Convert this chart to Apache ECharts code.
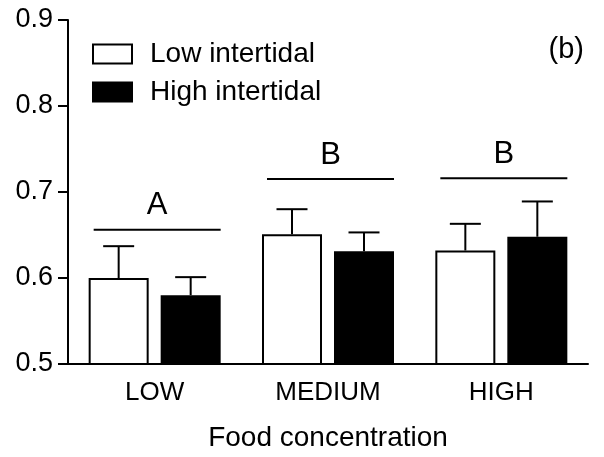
<!DOCTYPE html>
<html>
<head>
<meta charset="utf-8">
<script src="https://cdn.jsdelivr.net/npm/echarts@6/dist/echarts.min.js"></script>
<style>
  html, body { margin: 0; padding: 0; background: #fff; }
  #chart { width: 604px; height: 457px; }
</style>
</head>
<body>
<div id="chart"></div>
<script>
// Food concentration treatments
const categories = ['LOW', 'MEDIUM', 'HIGH'];
// Means and standard errors per intertidal origin
const lowIntertidal = [0.600, 0.651, 0.632];
const lowIntertidalSE = [0.037, 0.029, 0.031];
const highIntertidal = [0.580, 0.631, 0.648];
const highIntertidalSE = [0.021, 0.022, 0.041];
// Post-hoc grouping letters and the level of their bracket lines
const groupLetters = ['A', 'B', 'B'];
const groupLineLevel = [0.656, 0.715, 0.716];
// Y axis ticks
const yTicks = [0.5, 0.6, 0.7, 0.8, 0.9];

const FONT = 'Liberation Sans, Arial, Helvetica, sans-serif';
const BAR_W = 60;
const BAR_OFFSET = 36; // half of bar width plus half of gap

const chart = echarts.init(document.getElementById('chart'), null, { renderer: 'canvas' });

function errorSeries(name, means, ses, dir) {
  return {
    type: 'custom',
    name: name + ' SE',
    z: 1,
    silent: true,
    data: means.map((m, i) => [i, m, m + ses[i]]),
    renderItem: function (params, api) {
      const base = api.coord([api.value(0), api.value(1)]);
      const top = api.coord([api.value(0), api.value(2)]);
      const x = base[0] + dir * BAR_OFFSET;
      const style = { stroke: '#000', lineWidth: 2 };
      return {
        type: 'group',
        children: [
          { type: 'line', shape: { x1: x, y1: base[1], x2: x, y2: top[1] }, style: style },
          { type: 'line', shape: { x1: x - 15.5, y1: top[1], x2: x + 15.5, y2: top[1] }, style: style }
        ]
      };
    }
  };
}

const option = {
  animation: false,
  backgroundColor: '#fff',
  title: {
    text: '(b)',
    right: 20,
    top: 35,
    padding: 0,
    textStyle: { fontFamily: FONT, fontSize: 29, fontWeight: 'normal', color: '#000' }
  },
  legend: {
    orient: 'vertical',
    left: 92,
    top: 40,
    padding: 0,
    icon: 'rect',
    itemWidth: 39,
    itemHeight: 19,
    itemGap: 10,
    data: ['Low intertidal', 'High intertidal'],
    textStyle: { fontFamily: FONT, fontSize: 28, color: '#000', padding: [0, 0, 0, 13], lineHeight: 28 }
  },
  grid: { left: 68, right: 16, top: 20, bottom: 93, containLabel: false },
  xAxis: {
    type: 'category',
    data: categories,
    name: 'Food concentration',
    nameLocation: 'middle',
    nameGap: 60,
    nameTextStyle: { fontFamily: FONT, fontSize: 28, color: '#000' },
    axisLine: { lineStyle: { color: '#000', width: 2 } },
    axisTick: { alignWithLabel: true, length: 9, lineStyle: { color: '#000', width: 2 } },
    axisLabel: { fontFamily: FONT, fontSize: 26, color: '#000', margin: 16 },
    splitLine: { show: false }
  },
  yAxis: {
    type: 'value',
    min: yTicks[0],
    max: yTicks[yTicks.length - 1],
    interval: 0.1,
    axisLine: { show: true, lineStyle: { color: '#000', width: 2 } },
    axisTick: { show: true, length: 10, lineStyle: { color: '#000', width: 2 } },
    axisLabel: { fontFamily: FONT, fontSize: 27, color: '#000', margin: 15, formatter: v => v.toFixed(1) },
    splitLine: { show: false }
  },
  series: [
    errorSeries('Low intertidal', lowIntertidal, lowIntertidalSE, -1),
    errorSeries('High intertidal', highIntertidal, highIntertidalSE, 1),
    {
      name: 'Low intertidal',
      type: 'bar',
      z: 2,
      barWidth: BAR_W,
      barGap: '20%',
      data: lowIntertidal,
      itemStyle: { color: '#fff', borderColor: '#000', borderWidth: 2 }
    },
    {
      name: 'High intertidal',
      type: 'bar',
      z: 2,
      barWidth: BAR_W,
      barGap: '20%',
      data: highIntertidal,
      itemStyle: { color: '#000', borderColor: '#000', borderWidth: 2 }
    },
    {
      type: 'custom',
      name: 'groups',
      silent: true,
      data: groupLineLevel.map((v, i) => [i, v]),
      renderItem: function (params, api) {
        const p = api.coord([api.value(0), api.value(1)]);
        const letter = groupLetters[params.dataIndex];
        return {
          type: 'group',
          children: [
            { type: 'line', shape: { x1: p[0] - 61, y1: p[1], x2: p[0] + 66, y2: p[1] },
              style: { stroke: '#000', lineWidth: 2 } },
            { type: 'text', x: p[0] + 2.5, y: p[1] - 8.5,
              style: { text: letter, fontFamily: FONT, fontSize: 31, fill: '#000',
                       textAlign: 'center', textVerticalAlign: 'bottom' } }
          ]
        };
      }
    }
  ]
};

chart.setOption(option);
</script>
</body>
</html>
